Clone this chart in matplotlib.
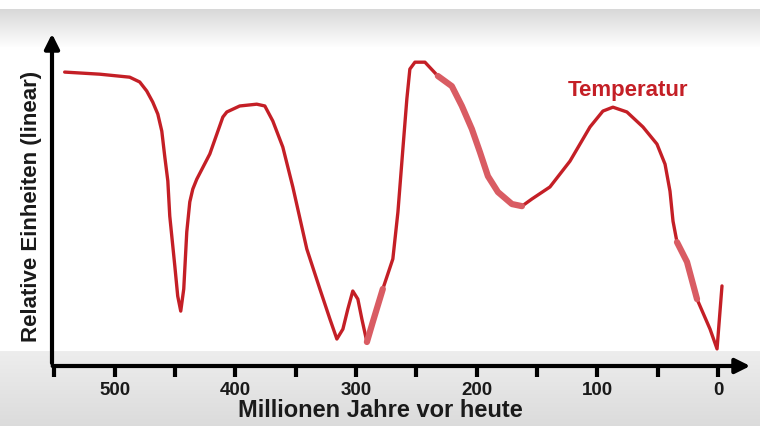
import numpy as np
import matplotlib
matplotlib.use("Agg")
import matplotlib.pyplot as plt
from matplotlib.ticker import MultipleLocator

# Alter in Millionen Jahren vor heute und relative Temperatur
alter = [541.5, 512.4, 487.6, 479.3, 473.5, 468.5, 464.3, 461.0, 458.5, 456.0,
         454.4, 450.2, 447.8, 445.3, 442.8, 440.3, 437.8, 435.3, 432.0, 421.2,
         410.4, 407.1, 396.4, 382.3, 375.6, 369.0, 360.7, 352.4, 340.8, 330.0,
         321.7, 315.9, 310.9, 306.8, 302.7, 298.5, 295.2, 291.0, 286.1, 277.8,
         269.5, 265.3, 261.2, 257.9, 255.4, 251.2, 242.9, 232.2, 220.6, 212.3,
         204.0, 197.3, 190.7, 182.4, 170.8, 162.5, 154.2, 139.3, 122.7, 106.1,
         95.4, 87.1, 75.5, 62.2, 50.6, 43.9, 39.8, 37.3, 34.0, 25.7,
         17.4, 6.6, 0.8, -3.3]
temperatur = [9.80, 9.73, 9.63, 9.47, 9.17, 8.80, 8.40, 7.83, 6.97, 6.17,
              5.00, 3.33, 2.33, 1.83, 2.57, 4.47, 5.47, 5.90, 6.23, 7.07,
              8.30, 8.47, 8.67, 8.73, 8.67, 8.17, 7.30, 5.97, 3.90, 2.57,
              1.57, 0.90, 1.23, 1.90, 2.50, 2.23, 1.57, 0.80, 1.47, 2.57,
              3.57, 5.13, 7.23, 8.90, 9.90, 10.13, 10.13, 9.67, 9.33, 8.67,
              7.90, 7.13, 6.33, 5.80, 5.40, 5.33, 5.57, 5.97, 6.83, 7.97,
              8.50, 8.63, 8.47, 7.97, 7.40, 6.73, 5.83, 4.83, 4.13, 3.47,
              2.23, 1.23, 0.57, 2.67]

# nachgemalte (hellere, dickere) Abschnitte der Kurve, in Mio. Jahren
nachgemalt = [(236, 160), (291, 276), (35, 10)]

major_ticks = [500, 400, 300, 200, 100, 0]

fig = plt.figure(figsize=(7.6, 4.27), dpi=100)

# Hintergrund (grauer Verlauf oben und unten wie im Screenshot)
bg = fig.add_axes([0, 0, 1, 1])
rows = np.arange(427)
shade = np.ones(427)
top = (rows >= 10) & (rows < 48)
shade[top] = 0.85 + 0.15 * (rows[top] - 10) / 38
low = rows >= 352
shade[low] = 0.93 - 0.07 * (rows[low] - 352) / 75
img = np.tile(shade[:, None], (1, 760))
bg.imshow(np.dstack([img, img, img]), aspect="auto", extent=[0, 760, 427, 0])
bg.set_xlim(0, 760)
bg.set_ylim(427, 0)
bg.axis("off")

ax = fig.add_axes([52 / 760, 60 / 427, 701 / 760, 335 / 427])
ax.patch.set_alpha(0)

ax.plot(alter, temperatur, color="#c41f26", linewidth=2.4,
        solid_joinstyle="round", solid_capstyle="round", zorder=2)
a = np.array(alter)
t = np.array(temperatur)
for hi, lo in nachgemalt:
    m = (a <= hi) & (a >= lo)
    ax.plot(a[m], t[m], color="#d95c63", linewidth=4.5, solid_capstyle="round",
            solid_joinstyle="round", zorder=3)

ax.set_xlim(552, -29)
ax.set_ylim(0, 11.17)

for s in ax.spines.values():
    s.set_visible(False)
ax.annotate("", xy=(1, 0), xytext=(-0.003, 0), xycoords="axes fraction",
            arrowprops=dict(arrowstyle="-|>", lw=3, color="black", mutation_scale=22))
ax.annotate("", xy=(0, 1), xytext=(0, 0), xycoords="axes fraction",
            arrowprops=dict(arrowstyle="-|>", lw=3, color="black", mutation_scale=22))

ax.set_xticks(major_ticks)
ax.xaxis.set_minor_locator(MultipleLocator(50))
ax.set_yticks([])
ax.tick_params(axis="x", which="both", direction="out", length=8, width=3, color="black", pad=3)
for lab in ax.get_xticklabels():
    lab.set_fontfamily("Liberation Sans")
    lab.set_fontweight("bold")
    lab.set_fontsize(13.5)
    lab.set_color("#1a1a1a")

ax.set_xlabel("Millionen Jahre vor heute", fontfamily="Liberation Sans", fontweight="bold",
              fontsize=17, color="#1a1a1a", va="center")
ax.xaxis.set_label_coords(0.468, -0.13)
ax.set_ylabel("Relative Einheiten (linear)", fontfamily="Liberation Sans", fontweight="bold",
              fontsize=16, color="#1a1a1a", va="center")
ax.yaxis.set_label_coords(-0.029, 0.48)

ax.text(75, 9.23, "Temperatur", color="#c41f26", fontfamily="Liberation Sans",
        fontweight="bold", fontsize=16, ha="center", va="center")

fig.savefig("out.png", dpi=100)
